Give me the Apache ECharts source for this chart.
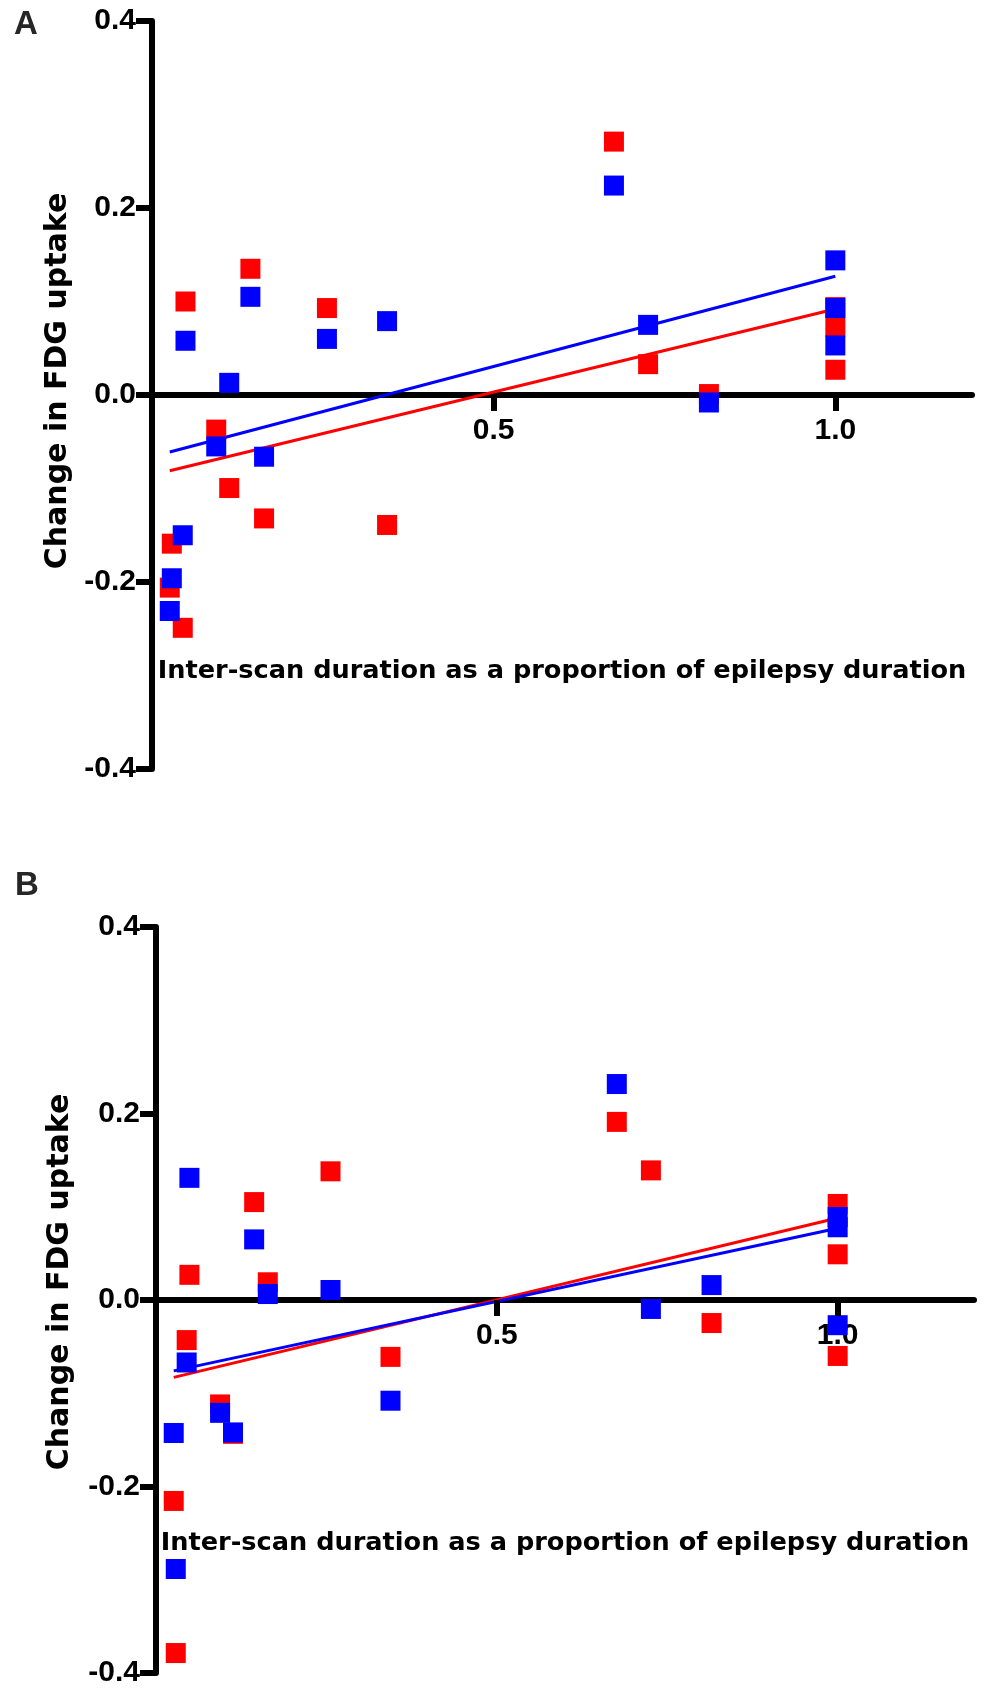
<!DOCTYPE html>
<html>
<head>
<meta charset="utf-8">
<title>Change in FDG uptake vs inter-scan duration</title>
<script src="https://cdn.jsdelivr.net/npm/echarts@6/dist/echarts.min.js"></script>
<style>
  html, body { margin: 0; padding: 0; background: #fff; }
  #chart { width: 987px; height: 1688px; }
</style>
</head>
<body>
<div id="chart"></div>
<script>
// inter-scan duration as a proportion of epilepsy duration (same patients in A and B)
const durations = [0.026, 0.029, 0.045, 0.049, 0.094, 0.113, 0.144, 0.164, 0.256, 0.344, 0.676, 0.726, 0.815, 1.0, 1.0, 1.0];

// panel A
const redA  = [-0.206, -0.159, -0.249, 0.100, -0.037, -0.0995, 0.135, -0.132, 0.093, -0.139, 0.271, 0.033, 0.001, 0.073, 0.027, 0.094];
const blueA = [-0.231, -0.196, -0.150, 0.058, -0.055, 0.013, 0.105, -0.066, 0.060, 0.079, 0.224, 0.075, -0.008, 0.053, 0.093, 0.144];

// panel B
const redB  = [-0.2155, -0.3786, -0.043, 0.027, -0.112, -0.1435, 0.105, 0.019, 0.138, -0.061, 0.191, 0.139, -0.0247, 0.103, 0.049, -0.060];
const blueB = [-0.1426, -0.2885, -0.067, 0.131, -0.121, -0.142, 0.065, 0.0064, 0.0107, -0.108, 0.2316, -0.0096, 0.016, 0.089, 0.078, -0.027];

// fitted lines (x start/end, y start/end)
const fitX = [0.026, 1.0];
const fitRedA = [-0.081, 0.092];
const fitBlueA = [-0.061, 0.127];
const fitRedB = [-0.083, 0.088];
const fitBlueB = [-0.076, 0.077];

const xTickValues = [0.5, 1.0];
const xRange = [0, 1.2];
const yRange = [-0.4, 0.4];
const panelLetters = ['A', 'B'];
const xName = 'Inter-scan duration as a proportion of epilepsy duration';
const yName = 'Change in FDG uptake';

const RED = '#ff0000';
const BLUE = '#0000ff';
const TICK_PX = 16;

const grids = [
    { left: 152, top: 21, width: 820, height: 748, outerBoundsMode: 'none' },
    { left: 156, top: 927, width: 818, height: 746, outerBoundsMode: 'none' }
];

// x axis sits on y = 0: shift it up from the grid bottom
function zeroOffset(g) {
    return -g.height * (0 - yRange[0]) / (yRange[1] - yRange[0]);
}

function xAxisFor(idx, gap) {
    return {
        gridIndex: idx,
        type: 'value',
        min: xRange[0],
        max: xRange[1],
        position: 'bottom',
        offset: zeroOffset(grids[idx]),
        axisLine: { show: true, onZero: false, lineStyle: { color: '#000', width: 6 } },
        // axis ticks won't draw on the shifted axis; they come from markLine below
        axisTick: { show: false },
        axisLabel: {
            customValues: xTickValues,
            formatter: v => v.toFixed(1),
            margin: 21,
            color: '#000',
            fontSize: 30,
            fontWeight: 'bold',
            fontFamily: 'Liberation Sans'
        },
        splitLine: { show: false },
        name: xName,
        nameLocation: 'middle',
        nameGap: gap,
        nameTextStyle: { color: '#000', fontSize: 25.6, fontWeight: 'bold', fontFamily: 'DejaVu Sans' }
    };
}

function yAxisFor(idx, gap, shift) {
    return {
        gridIndex: idx,
        type: 'value',
        min: yRange[0],
        max: yRange[1],
        interval: 0.2,
        axisLine: { show: true, onZero: false, lineStyle: { color: '#000', width: 6 } },
        axisTick: { show: true, length: TICK_PX, lineStyle: { color: '#000', width: 6 } },
        axisLabel: {
            formatter: v => v.toFixed(1),
            margin: 16,
            color: '#000',
            fontSize: 30,
            fontWeight: 'bold',
            fontFamily: 'Liberation Sans'
        },
        splitLine: { show: false },
        name: yName,
        nameLocation: 'middle',
        nameRotate: 90,
        nameGap: gap,
        nameTextStyle: {
            color: '#000', fontSize: 30, fontWeight: 'bold', fontFamily: 'DejaVu Sans',
            padding: [0, 0, 0, shift]
        }
    };
}

// short downward x ticks at the labelled values
function xTickMarks(idx) {
    const len = TICK_PX * (yRange[1] - yRange[0]) / grids[idx].height;
    return {
        silent: true,
        symbol: 'none',
        label: { show: false },
        lineStyle: { color: '#000', width: 6, type: 'solid', opacity: 1 },
        data: xTickValues.map(v => [{ coord: [v, 0] }, { coord: [v, -len] }])
    };
}

function fitSeries(idx, ys, color, withTicks) {
    const s = {
        type: 'line',
        xAxisIndex: idx,
        yAxisIndex: idx,
        data: fitX.map((x, i) => [x, ys[i]]),
        symbol: 'none',
        lineStyle: { color: color, width: 3 },
        z: 2,
        silent: true
    };
    if (withTicks) s.markLine = xTickMarks(idx);
    return s;
}

function dotSeries(idx, ys, color) {
    return {
        type: 'scatter',
        xAxisIndex: idx,
        yAxisIndex: idx,
        data: durations.map((x, i) => [x, ys[i]]),
        symbol: 'rect',
        symbolSize: 20,
        itemStyle: { color: color, opacity: 1 },
        z: 3
    };
}

const chart = echarts.init(document.getElementById('chart'), null, { renderer: 'canvas' });

const option = {
    animation: false,
    backgroundColor: '#fff',
    grid: grids,
    xAxis: [xAxisFor(0, 263), xAxisFor(1, 230)],
    yAxis: [yAxisFor(0, 77, 28), yAxisFor(1, 81, 36)],
    graphic: [
        { type: 'text', left: 14, top: 8, style: { text: panelLetters[0], font: 'bold 33px "Liberation Sans"', fill: '#262626' } },
        { type: 'text', left: 15, top: 869, style: { text: panelLetters[1], font: 'bold 33px "Liberation Sans"', fill: '#262626' } }
    ],
    series: [
        fitSeries(0, fitRedA, RED, true),
        fitSeries(0, fitBlueA, BLUE, false),
        dotSeries(0, redA, RED),
        dotSeries(0, blueA, BLUE),
        fitSeries(1, fitRedB, RED, true),
        fitSeries(1, fitBlueB, BLUE, false),
        dotSeries(1, redB, RED),
        dotSeries(1, blueB, BLUE)
    ]
};

chart.setOption(option);
</script>
</body>
</html>
